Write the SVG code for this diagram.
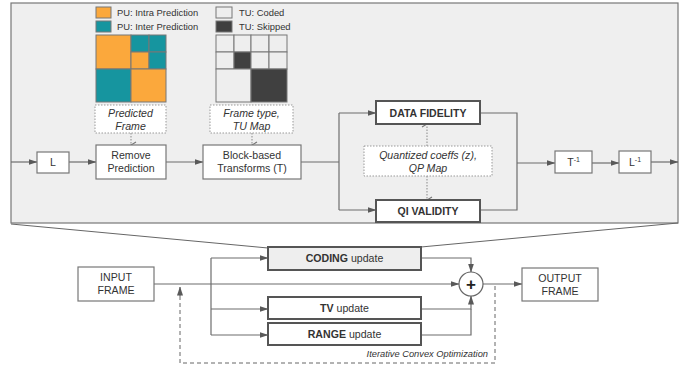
<svg xmlns="http://www.w3.org/2000/svg" width="694" height="373" viewBox="0 0 694 373">
<defs>
<marker id="ah" markerWidth="9" markerHeight="7" refX="8.5" refY="3.5" orient="auto" markerUnits="userSpaceOnUse">
<path d="M0,0.5 L9,3.5 L0,6.5 Z" fill="#595959"/>
</marker>
<marker id="ahv" markerWidth="8" markerHeight="8" refX="4" refY="7" orient="auto-start-reverse" markerUnits="userSpaceOnUse" viewBox="0 0 8 8">
<path d="M1,2 L4,7 L7,2" fill="none" stroke="#777" stroke-width="1.2"/>
</marker>
</defs>
<style>
.box{fill:#fff;stroke:#777;stroke-width:1.2}
.bbox{fill:#fff;stroke:#555;stroke-width:2}
.dot{fill:#fff;stroke:#999;stroke-width:1;stroke-dasharray:1.5 1.5}
.ln{fill:none;stroke:#6d6d6d;stroke-width:1.2}
.dl{fill:none;stroke:#999;stroke-width:1.2;stroke-dasharray:1.5 1.5}
.dsh{fill:none;stroke:#666;stroke-width:1;stroke-dasharray:4 3}
text{font-family:"Liberation Sans",Arial,sans-serif;fill:#333;font-size:10.6px}
.c{text-anchor:middle}
.it{font-style:italic}
.b{font-weight:bold}
.bl{font-weight:bold;font-size:10.5px}
.lg{font-size:9.4px}
.sm{font-size:9.3px}
.plus{font-weight:bold;font-size:17px;fill:#222}
.or{fill:#FBA83C;stroke:#777;stroke-width:1}
.te{fill:#16959F;stroke:#777;stroke-width:1}
.lt{fill:#eeeeee;stroke:#777;stroke-width:1}
.dk{fill:#404040;stroke:#777;stroke-width:1}
</style>

<!-- zoom panel -->
<g id="panel">
<rect x="11" y="3" width="667" height="220" fill="#efefef" stroke="#777" stroke-width="1.2"/>
<line x1="11" y1="224" x2="268" y2="248" stroke="#666" stroke-width="1"/>
<line x1="678" y1="223" x2="421" y2="247" stroke="#666" stroke-width="1"/>
</g>

<!-- legend -->
<g id="legend">
<rect class="or" x="96" y="7" width="15" height="11"/>
<text class="lg" x="117" y="16">PU: Intra Prediction</text>
<rect class="te" x="96" y="21" width="15" height="11"/>
<text class="lg" x="117" y="30">PU: Inter Prediction</text>
<rect class="lt" x="216" y="7" width="16" height="11"/>
<text class="lg" x="239" y="16">TU: Coded</text>
<rect class="dk" x="216" y="21" width="16" height="11"/>
<text class="lg" x="239" y="30">TU: Skipped</text>
</g>

<!-- PU map -->
<g id="pu-map">
<rect class="or" x="96" y="35" width="35" height="34"/>
<rect class="te" x="131" y="35" width="18" height="17"/>
<rect class="te" x="149" y="35" width="17" height="17"/>
<rect class="or" x="131" y="52" width="18" height="17"/>
<rect class="te" x="149" y="52" width="17" height="17"/>
<rect class="te" x="96" y="69" width="35" height="33"/>
<rect class="or" x="131" y="69" width="35" height="33"/>
</g>

<!-- TU map -->
<g id="tu-map">
<rect class="lt" x="216" y="35" width="18" height="17"/>
<rect class="lt" x="234" y="35" width="17" height="17"/>
<rect class="lt" x="251" y="35" width="18" height="17"/>
<rect class="lt" x="269" y="35" width="18" height="17"/>
<rect class="lt" x="216" y="52" width="18" height="17"/>
<rect class="dk" x="234" y="52" width="17" height="17"/>
<rect class="lt" x="251" y="52" width="18" height="17"/>
<rect class="lt" x="269" y="52" width="18" height="17"/>
<rect class="lt" x="216" y="69" width="35" height="33"/>
<rect class="dk" x="251" y="69" width="36" height="33"/>
</g>

<!-- connectors -->
<g id="connectors">
<line class="ln" x1="11" y1="162" x2="37" y2="162" marker-end="url(#ah)"/>
<line class="ln" x1="69" y1="162" x2="96" y2="162" marker-end="url(#ah)"/>
<line class="ln" x1="166" y1="162" x2="203" y2="162" marker-end="url(#ah)"/>
<polyline class="ln" points="301,162 339,162"/>
<polyline class="ln" points="339,113 339,210"/>
<line class="ln" x1="339" y1="113" x2="376" y2="113" marker-end="url(#ah)"/>
<line class="ln" x1="339" y1="210" x2="376" y2="210" marker-end="url(#ah)"/>
<polyline class="ln" points="480,113 517,113 517,210 480,210"/>
<line class="ln" x1="517" y1="163" x2="555" y2="163" marker-end="url(#ah)"/>
<line class="ln" x1="592" y1="163" x2="619" y2="163" marker-end="url(#ah)"/>
<line class="ln" x1="651" y1="162" x2="678" y2="162" marker-end="url(#ah)"/>
<line class="dl" x1="131" y1="133" x2="131" y2="145" marker-end="url(#ahv)"/>
<line class="dl" x1="252" y1="133" x2="252" y2="145" marker-end="url(#ahv)"/>
<line class="dl" x1="427" y1="146" x2="427" y2="124" marker-end="url(#ahv)"/>
<line class="dl" x1="427" y1="176" x2="427" y2="200" marker-end="url(#ahv)"/>

<line class="ln" x1="154" y1="284" x2="459" y2="284" marker-end="url(#ah)"/>
<polyline class="ln" points="211,258 211,335"/>
<line class="ln" x1="211" y1="258" x2="268" y2="258" marker-end="url(#ah)"/>
<line class="ln" x1="211" y1="309" x2="268" y2="309" marker-end="url(#ah)"/>
<line class="ln" x1="211" y1="335" x2="268" y2="335" marker-end="url(#ah)"/>
<polyline class="ln" points="421,258 471,258 471,272" marker-end="url(#ah)"/>
<polyline class="ln" points="421,309 471,309 471,296" marker-end="url(#ah)"/>
<polyline class="ln" points="421,335 471,335 471,309"/>
<line class="ln" x1="483" y1="284" x2="522" y2="284" marker-end="url(#ah)"/>
<polyline class="dsh" points="495,286 495,363 180,363 180,295"/>
<line class="ln" x1="180" y1="296" x2="180" y2="287" stroke-width="1" marker-end="url(#ah)"/>
</g>

<!-- dotted info boxes -->
<g id="predicted-frame">
<rect class="dot" x="95" y="105" width="71" height="28"/>
<text class="c it" x="130.5" y="117">Predicted</text>
<text class="c it" x="130.5" y="130">Frame</text>
</g>
<g id="frame-type">
<rect class="dot" x="210" y="105" width="83" height="28"/>
<text class="c it" x="251.5" y="117">Frame type,</text>
<text class="c it" x="251.5" y="130">TU Map</text>
</g>
<g id="quantized">
<rect class="dot" x="364" y="146" width="128" height="30"/>
<text class="c it" x="428" y="159">Quantized coeffs (z),</text>
<text class="c it" x="428" y="172">QP Map</text>
</g>

<!-- nodes -->
<g id="L">
<rect class="box" x="37" y="152" width="32" height="21"/>
<text class="c" x="53" y="166">L</text>
</g>
<g id="remove-prediction">
<rect class="box" x="96" y="145" width="70" height="34"/>
<text class="c" x="131" y="159">Remove</text>
<text class="c" x="131" y="172">Prediction</text>
</g>
<g id="transforms">
<rect class="box" x="203" y="145" width="98" height="34"/>
<text class="c" x="252" y="159">Block-based</text>
<text class="c" x="252" y="172">Transforms (T)</text>
</g>
<g id="data-fidelity">
<rect class="bbox" x="376" y="101" width="104" height="23"/>
<text class="c bl" x="428" y="116.5">DATA FIDELITY</text>
</g>
<g id="qi-validity">
<rect class="bbox" x="376" y="200" width="104" height="22"/>
<text class="c bl" x="428" y="215">QI VALIDITY</text>
</g>
<g id="T-inv">
<rect class="box" x="555" y="151" width="37" height="22"/>
<text class="c" x="573.5" y="166">T<tspan font-size="7" dy="-4">-1</tspan></text>
</g>
<g id="L-inv">
<rect class="box" x="619" y="151" width="32" height="22"/>
<text class="c" x="635" y="166">L<tspan font-size="7" dy="-4">-1</tspan></text>
</g>

<g id="input-frame">
<rect class="box" x="78" y="267" width="76" height="34"/>
<text class="c" x="116" y="281">INPUT</text>
<text class="c" x="116" y="294">FRAME</text>
</g>
<g id="coding-update">
<rect class="bbox" x="268" y="247" width="153" height="23" style="fill:#eeeeee"/>
<text class="c" x="344.5" y="262"><tspan class="b">CODING</tspan> update</text>
</g>
<g id="tv-update">
<rect class="bbox" x="268" y="297" width="153" height="22"/>
<text class="c" x="344.5" y="312"><tspan class="b">TV</tspan> update</text>
</g>
<g id="range-update">
<rect class="bbox" x="268" y="323" width="153" height="22"/>
<text class="c" x="344.5" y="338"><tspan class="b">RANGE</tspan> update</text>
</g>
<g id="sum">
<circle cx="471" cy="284" r="12" fill="#fff" stroke="#666" stroke-width="1.2"/>
<text class="c plus" x="471" y="290">+</text>
</g>
<g id="output-frame">
<rect class="box" x="522" y="268" width="76" height="33"/>
<text class="c" x="560" y="282">OUTPUT</text>
<text class="c" x="560" y="295">FRAME</text>
</g>
<text class="it sm" x="488" y="357" text-anchor="end">Iterative Convex Optimization</text>
</svg>
